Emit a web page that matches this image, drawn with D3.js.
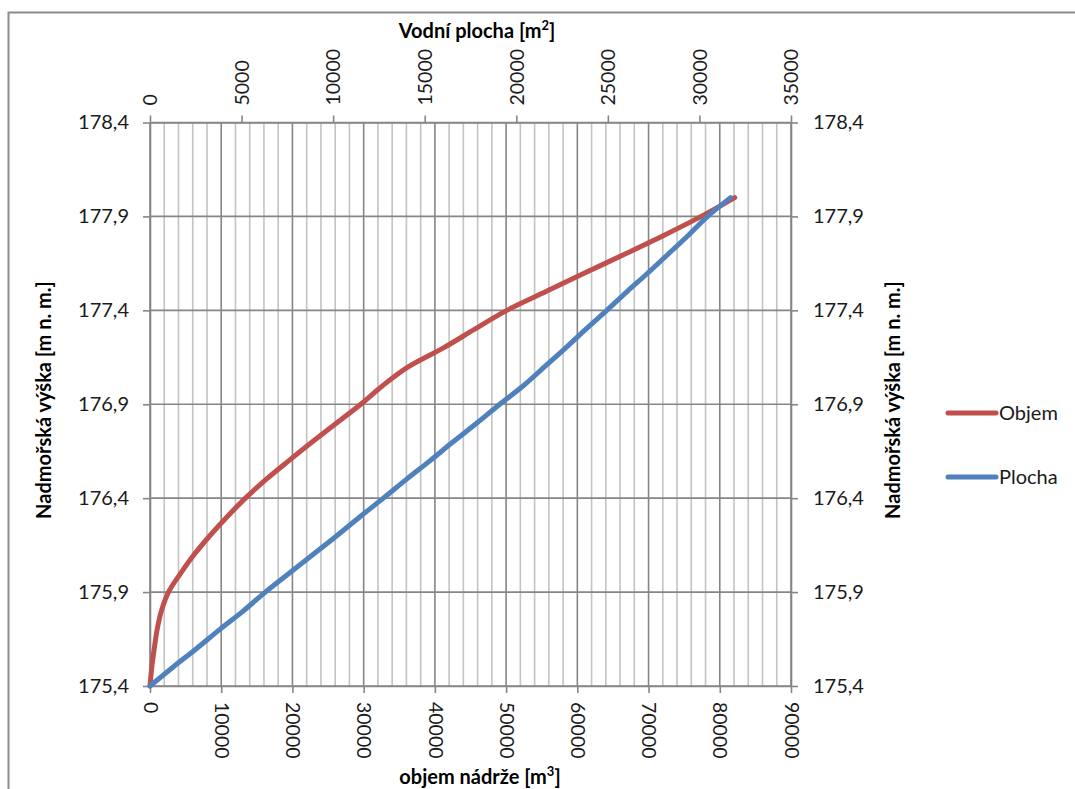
<!DOCTYPE html>
<html>
<head>
<meta charset="utf-8">
<script src="https://cdn.jsdelivr.net/npm/d3@7"></script>
<style>
  html, body { margin: 0; padding: 0; background: #fff; }
  svg { display: block; font-family: Lato, "Open Sans", sans-serif; }
</style>
</head>
<body>
<svg id="chart" width="1075" height="789"></svg>
<script>
// Water level (m a.s.l.) for each measured row
const elevation = [175.4, 175.5, 175.6, 175.7, 175.8, 175.9, 176.0, 176.1, 176.2, 176.3,
                   176.4, 176.5, 176.6, 176.7, 176.8, 176.9, 177.0, 177.1, 177.2, 177.3,
                   177.4, 177.5, 177.6, 177.7, 177.8, 177.9, 178.0];
// Reservoir volume [m3] at each level
const objem = [0, 250, 600, 1000, 1600, 2600, 4300, 6200, 8400, 10800,
               13400, 16300, 19500, 22800, 26200, 29600, 32700, 36300, 41200, 45600,
               50100, 55600, 61100, 66700, 72200, 77400, 82100];
// Water surface area [m2] at each level
const plocha = [0, 1250, 2550, 3800, 5100, 6300, 7600, 8900, 10200, 11450,
                12740, 14000, 15300, 16550, 17850, 19100, 20400, 21550, 22700, 23800,
                24940, 26050, 27200, 28300, 29400, 30450, 31700];

const seriesNames = ["Objem", "Plocha"];
const seriesColors = ["#C0504D", "#4F81BD"];

const yTicks = [175.4, 175.9, 176.4, 176.9, 177.4, 177.9, 178.4];
const xBottomTicks = [0, 10000, 20000, 30000, 40000, 50000, 60000, 70000, 80000, 90000];
const xTopTicks = [0, 5000, 10000, 15000, 20000, 25000, 30000, 35000];
const xMinorStep = 2000;

const svg = d3.select("#chart");
const plotLeft = 150, plotRight = 791, plotTop = 122.5, plotBottom = 686;

const x = d3.scaleLinear().domain([0, 90000]).range([plotLeft, plotRight]);
const xTop = d3.scaleLinear().domain([0, 35000]).range([plotLeft, plotRight]);
const y = d3.scaleLinear().domain([175.4, 178.4]).range([plotBottom, plotTop]);

const fmtY = d => d3.format(".1f")(d).replace(".", ",");
const AXIS = "#868686", MINOR = "#c3c3c3";

// Outer chart frame
svg.append("rect")
  .attr("x", 8.5).attr("y", 12.5).attr("width", 1100).attr("height", 800)
  .attr("fill", "none").attr("stroke", "#8c8c8c").attr("stroke-width", 2);

// Minor vertical grid
const grid = svg.append("g");
grid.selectAll("line.minor")
  .data(d3.range(0, 90001, xMinorStep).filter(v => v % 10000 !== 0))
  .join("line").attr("class", "minor")
  .attr("x1", d => x(d)).attr("x2", d => x(d))
  .attr("y1", plotTop).attr("y2", plotBottom)
  .attr("stroke", MINOR).attr("stroke-width", 1.6);
// Major vertical grid
grid.selectAll("line.vmajor")
  .data(xBottomTicks)
  .join("line").attr("class", "vmajor")
  .attr("x1", d => x(d)).attr("x2", d => x(d))
  .attr("y1", plotTop).attr("y2", plotBottom)
  .attr("stroke", AXIS).attr("stroke-width", 1.6);
// Horizontal grid
grid.selectAll("line.h")
  .data(yTicks)
  .join("line").attr("class", "h")
  .attr("x1", plotLeft).attr("x2", plotRight)
  .attr("y1", d => y(d)).attr("y2", d => y(d))
  .attr("stroke", AXIS).attr("stroke-width", 1.6);

function styleAxis(g) {
  g.select(".domain").attr("stroke", AXIS).attr("stroke-width", 1.6);
  g.selectAll(".tick line").attr("stroke", AXIS).attr("stroke-width", 1.6);
  g.selectAll(".tick text").attr("fill", "#1a1a1a").style("font-size", "20px")
    .style("font-family", "Lato, sans-serif");
}

// Left axis
svg.append("g").attr("transform", `translate(${plotLeft},0)`)
  .call(d3.axisLeft(y).tickValues(yTicks).tickFormat(fmtY).tickSize(7).tickPadding(14).tickSizeOuter(0))
  .call(styleAxis);
// Right axis
svg.append("g").attr("transform", `translate(${plotRight},0)`)
  .call(d3.axisRight(y).tickValues(yTicks).tickFormat(fmtY).tickSize(7).tickPadding(15).tickSizeOuter(0))
  .call(styleAxis);
// Bottom axis (volume)
const gb = svg.append("g").attr("transform", `translate(0,${plotBottom})`)
  .call(d3.axisBottom(x).tickValues(xBottomTicks).tickFormat(d3.format("d")).tickSize(7).tickSizeOuter(0))
  .call(styleAxis);
gb.selectAll(".tick text")
  .style("font-size", "19.5px")
  .attr("transform", "rotate(90)")
  .attr("x", 16).attr("y", 0).attr("dy", "0.35em")
  .attr("text-anchor", "start");
// Top axis (surface area)
const gt = svg.append("g").attr("transform", `translate(0,${plotTop})`)
  .call(d3.axisTop(xTop).tickValues(xTopTicks).tickFormat(d3.format("d")).tickSize(7).tickSizeOuter(0))
  .call(styleAxis);
gt.selectAll(".tick text")
  .style("font-size", "19.5px")
  .attr("transform", "rotate(-90)")
  .attr("x", 17).attr("y", 0).attr("dy", "0.35em")
  .attr("text-anchor", "start");

// Axis titles
const titleStyle = sel => sel.attr("font-weight", "bold").style("font-size", "20px").attr("fill", "#000");
const tTop = svg.append("text").attr("x", 477).attr("y", 38).attr("text-anchor", "middle").call(titleStyle);
tTop.append("tspan").text("Vodní plocha [m");
tTop.append("tspan").attr("dy", -8).style("font-size", "13px").text("2");
tTop.append("tspan").attr("dy", 8).text("]");

const tBot = svg.append("text").attr("x", 480).attr("y", 784).attr("text-anchor", "middle").call(titleStyle);
tBot.append("tspan").text("objem nádrže [m");
tBot.append("tspan").attr("dy", -8).style("font-size", "13px").text("3");
tBot.append("tspan").attr("dy", 8).text("]");

svg.append("text").attr("transform", "translate(51,400) rotate(-90)")
  .attr("text-anchor", "middle").call(titleStyle).text("Nadmořská výška [m n. m.]");
svg.append("text").attr("transform", "translate(900,400) rotate(-90)")
  .attr("text-anchor", "middle").call(titleStyle).text("Nadmořská výška [m n. m.]");

// Smoothed curves through the measured rows
const rows = elevation.map((e, i) => ({ e, v: objem[i], a: plocha[i] }));
const smooth = d3.curveCatmullRom.alpha(0.5);
const lineObjem = d3.line().x(d => x(d.v)).y(d => y(d.e)).curve(smooth);
const linePlocha = d3.line().x(d => xTop(d.a)).y(d => y(d.e)).curve(smooth);

svg.append("path").datum(rows).attr("d", lineObjem)
  .attr("fill", "none").attr("stroke", seriesColors[0]).attr("stroke-width", 5)
  .attr("stroke-linejoin", "round").attr("stroke-linecap", "round");
svg.append("path").datum(rows).attr("d", linePlocha)
  .attr("fill", "none").attr("stroke", seriesColors[1]).attr("stroke-width", 5)
  .attr("stroke-linejoin", "round").attr("stroke-linecap", "round");

// Legend
const legend = svg.append("g");
seriesNames.forEach((name, i) => {
  const ly = 413 + i * 64;
  legend.append("line").attr("x1", 948).attr("x2", 996).attr("y1", ly).attr("y2", ly)
    .attr("stroke", seriesColors[i]).attr("stroke-width", 5).attr("stroke-linecap", "round");
  legend.append("text").attr("x", 999).attr("y", ly).attr("dy", "0.35em")
    .style("font-size", "20px").attr("fill", "#1a1a1a").text(name);
});
</script>
</body>
</html>
